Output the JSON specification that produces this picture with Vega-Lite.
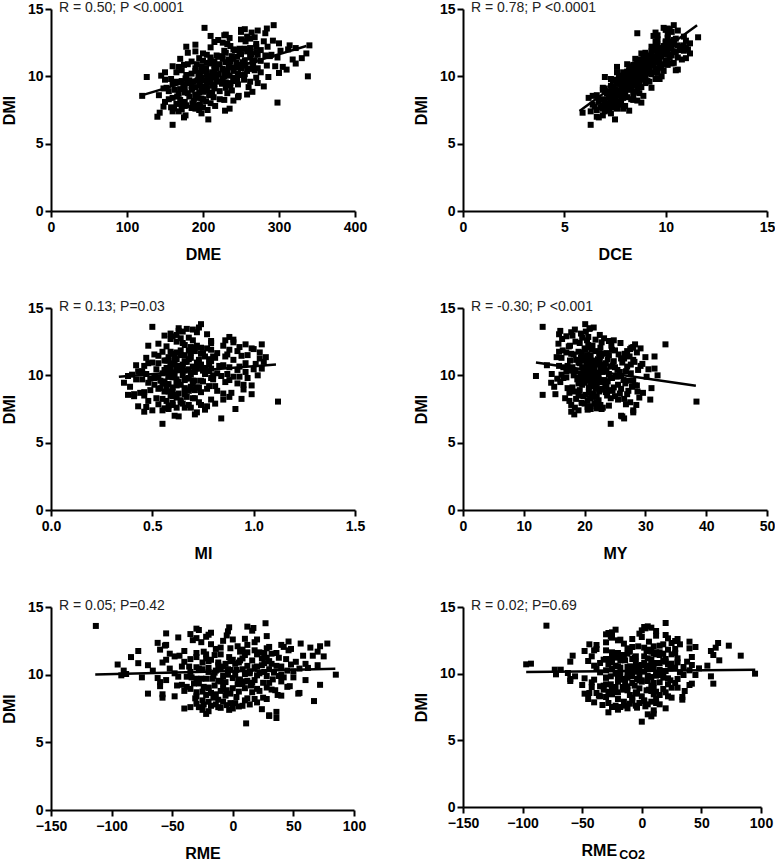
{
"$schema": "https://vega.github.io/schema/vega-lite/v6.json",
"padding": {"left": 1, "top": 1, "right": 0, "bottom": 0},
"background": "white",
"config": {
 "view": {"stroke": null},
 "font": "Liberation Sans",
 "axis": {"grid": false, "domainColor": "black", "domainWidth": 2, "tickColor": "black", "tickWidth": 2, "tickSize": 6, "labelFont": "Liberation Sans", "labelFontWeight": "bold", "labelFontSize": 14, "labelColor": "black", "labelFlush": false, "labelOverlap": false, "titleFont": "Liberation Sans", "titleFontSize": 16, "titleFontWeight": "bold", "titleColor": "black"},
 "axisX": {"labelPadding": 3, "titlePadding": 12},
 "axisY": {"labelPadding": 2, "titlePadding": 10}
},
"datasets": {
 "animals": [
{"dmi":6.4,"dme":160,"dce":6.3,"mi":0.55,"my":24.3,"rme":11,"rco2":0},
{"dmi":6.8,"dme":207,"dce":7.5,"mi":0.84,"my":26.5,"rme":36,"rco2":8},
{"dmi":6.95,"dme":175,"dce":6.7,"mi":0.63,"my":26.2,"rme":30,"rco2":5},
{"dmi":7.0,"dme":140,"dce":6.6,"mi":0.61,"my":26.0,"rme":30,"rco2":10},
{"dmi":7.1,"dme":177,"dce":6.9,"mi":0.71,"my":18.3,"rme":-22,"rco2":-28},
{"dmi":7.25,"dme":198,"dce":7.3,"mi":0.72,"my":28.0,"rme":36,"rco2":10},
{"dmi":7.3,"dme":143,"dce":5.9,"mi":0.46,"my":17.8,"rme":-20,"rco2":-20},
{"dmi":7.4,"dme":168,"dce":7.0,"mi":0.55,"my":28.0,"rme":-3,"rco2":20},
{"dmi":7.45,"dme":229,"dce":8.2,"mi":0.76,"my":20.5,"rme":24,"rco2":-4},
{"dmi":7.5,"dme":195,"dce":6.6,"mi":0.91,"my":21.0,"rme":0,"rco2":-25},
{"dmi":7.4,"dme":160,"dce":6.3,"mi":0.50,"my":19.0,"rme":-25,"rco2":-12},
{"dmi":7.55,"dme":172,"dce":7.2,"mi":0.56,"my":22.0,"rme":-10,"rco2":3},
{"dmi":7.6,"dme":162,"dce":7.6,"mi":0.62,"my":18.4,"rme":-28,"rco2":-22},
{"dmi":7.65,"dme":185,"dce":7.0,"mi":0.47,"my":20.5,"rme":5,"rco2":-33},
{"dmi":7.7,"dme":200,"dce":7.4,"mi":0.77,"my":22.5,"rme":-18,"rco2":5},
{"dmi":7.75,"dme":148,"dce":6.5,"mi":0.58,"my":24.0,"rme":-5,"rco2":-10},
{"dmi":7.8,"dme":216,"dce":8.0,"mi":0.68,"my":17.8,"rme":14,"rco2":12},
{"dmi":7.85,"dme":178,"dce":6.9,"mi":0.53,"my":26.8,"rme":-30,"rco2":-40},
{"dmi":7.9,"dme":196,"dce":7.7,"mi":0.81,"my":21.6,"rme":-2,"rco2":-15},
{"dmi":7.95,"dme":165,"dce":7.1,"mi":0.60,"my":19.5,"rme":20,"rco2":2},
{"dmi":7.6,"dme":235,"dce":7.9,"mi":0.66,"my":23.0,"rme":-35,"rco2":-5},
{"dmi":7.7,"dme":158,"dce":6.8,"mi":0.43,"my":21.0,"rme":8,"rco2":15},
{"dmi":7.8,"dme":189,"dce":7.5,"mi":0.74,"my":28.5,"rme":-14,"rco2":-28},
{"dmi":7.9,"dme":172,"dce":6.4,"mi":0.65,"my":20.0,"rme":2,"rco2":8},
{"dmi":7.5,"dme":206,"dce":7.2,"mi":0.58,"my":22.8,"rme":-40,"rco2":-18},
{"dmi":8.05,"dme":298,"dce":8.8,"mi":1.12,"my":38.4,"rme":67,"rco2":34},
{"dmi":8.1,"dme":150,"dce":6.7,"mi":0.48,"my":17.5,"rme":-25,"rco2":-45},
{"dmi":8.15,"dme":204,"dce":7.6,"mi":0.64,"my":22.3,"rme":-12,"rco2":12},
{"dmi":8.2,"dme":188,"dce":7.3,"mi":0.79,"my":25.5,"rme":18,"rco2":-8},
{"dmi":8.25,"dme":170,"dce":7.0,"mi":0.55,"my":18.6,"rme":-31,"rco2":-30},
{"dmi":8.3,"dme":222,"dce":8.3,"mi":0.70,"my":24.3,"rme":25,"rco2":22},
{"dmi":8.35,"dme":198,"dce":7.8,"mi":0.62,"my":29.0,"rme":3,"rco2":-36},
{"dmi":8.4,"dme":160,"dce":6.2,"mi":0.88,"my":21.2,"rme":-48,"rco2":-10},
{"dmi":8.45,"dme":246,"dce":8.1,"mi":0.60,"my":19.8,"rme":-6,"rco2":10},
{"dmi":8.5,"dme":182,"dce":7.4,"mi":0.46,"my":23.7,"rme":37,"rco2":-48},
{"dmi":8.0,"dme":210,"dce":7.8,"mi":0.73,"my":27.5,"rme":-20,"rco2":2},
{"dmi":8.1,"dme":176,"dce":7.0,"mi":0.57,"my":20.5,"rme":10,"rco2":-20},
{"dmi":8.2,"dme":240,"dce":8.6,"mi":0.85,"my":30.8,"rme":28,"rco2":25},
{"dmi":8.3,"dme":155,"dce":6.8,"mi":0.52,"my":16.8,"rme":-58,"rco2":-35},
{"dmi":8.4,"dme":193,"dce":7.9,"mi":0.67,"my":22.0,"rme":-30,"rco2":15},
{"dmi":8.45,"dme":214,"dce":7.2,"mi":0.41,"my":25.0,"rme":40,"rco2":-25},
{"dmi":8.25,"dme":228,"dce":8.4,"mi":0.94,"my":26.5,"rme":12,"rco2":34},
{"dmi":8.5,"dme":166,"dce":7.5,"mi":0.59,"my":19.0,"rme":-22,"rco2":-4},
{"dmi":8.55,"dme":120,"dce":6.4,"mi":0.38,"my":13.1,"rme":-58,"rco2":-44},
{"dmi":8.6,"dme":208,"dce":8.0,"mi":0.99,"my":27.0,"rme":54,"rco2":20},
{"dmi":8.65,"dme":190,"dce":7.6,"mi":0.63,"my":21.3,"rme":-18,"rco2":-28},
{"dmi":8.7,"dme":168,"dce":7.1,"mi":0.44,"my":17.5,"rme":-30,"rco2":8},
{"dmi":8.75,"dme":232,"dce":8.7,"mi":0.74,"my":23.5,"rme":5,"rco2":-12},
{"dmi":8.8,"dme":176,"dce":7.3,"mi":0.56,"my":28.7,"rme":22,"rco2":-32},
{"dmi":8.85,"dme":265,"dce":8.5,"mi":0.82,"my":24.6,"rme":35,"rco2":18},
{"dmi":8.9,"dme":155,"dce":7.0,"mi":0.49,"my":19.2,"rme":-8,"rco2":-2},
{"dmi":8.95,"dme":205,"dce":7.7,"mi":0.66,"my":22.6,"rme":-35,"rco2":25},
{"dmi":9.0,"dme":185,"dce":8.2,"mi":0.77,"my":26.0,"rme":10,"rco2":-22},
{"dmi":8.55,"dme":247,"dce":8.9,"mi":0.61,"my":20.2,"rme":-14,"rco2":-38},
{"dmi":8.6,"dme":142,"dce":6.6,"mi":0.41,"my":15.2,"rme":-70,"rco2":-5},
{"dmi":8.7,"dme":212,"dce":7.4,"mi":0.89,"my":29.6,"rme":16,"rco2":36},
{"dmi":8.8,"dme":195,"dce":8.0,"mi":0.58,"my":18.3,"rme":-40,"rco2":-15},
{"dmi":8.9,"dme":222,"dce":7.5,"mi":0.71,"my":24.0,"rme":32,"rco2":10},
{"dmi":9.0,"dme":163,"dce":6.9,"mi":0.53,"my":21.8,"rme":0,"rco2":-42},
{"dmi":8.65,"dme":258,"dce":8.4,"mi":0.85,"my":25.8,"rme":55,"rco2":12},
{"dmi":8.75,"dme":180,"dce":7.8,"mi":0.46,"my":20.7,"rme":-25,"rco2":4},
{"dmi":8.85,"dme":200,"dce":7.2,"mi":0.68,"my":27.2,"rme":-5,"rco2":-25},
{"dmi":8.95,"dme":238,"dce":8.6,"mi":0.95,"my":23.0,"rme":20,"rco2":30},
{"dmi":9.05,"dme":170,"dce":7.5,"mi":0.54,"my":17.2,"rme":-20,"rco2":-12},
{"dmi":9.1,"dme":215,"dce":8.1,"mi":0.72,"my":24.8,"rme":45,"rco2":-32},
{"dmi":9.15,"dme":152,"dce":6.9,"mi":0.39,"my":15.0,"rme":-60,"rco2":-50},
{"dmi":9.2,"dme":260,"dce":8.8,"mi":0.81,"my":21.7,"rme":15,"rco2":22},
{"dmi":9.25,"dme":198,"dce":7.8,"mi":0.62,"my":28.3,"rme":-42,"rco2":42},
{"dmi":9.3,"dme":185,"dce":7.3,"mi":0.95,"my":19.6,"rme":4,"rco2":-8},
{"dmi":9.35,"dme":236,"dce":8.5,"mi":0.57,"my":23.4,"rme":-28,"rco2":15},
{"dmi":9.4,"dme":174,"dce":8.0,"mi":0.70,"my":26.7,"rme":30,"rco2":-20},
{"dmi":9.45,"dme":225,"dce":7.6,"mi":0.48,"my":20.0,"rme":-6,"rco2":5},
{"dmi":9.5,"dme":272,"dce":9.0,"mi":0.86,"my":22.4,"rme":40,"rco2":-2},
{"dmi":9.05,"dme":205,"dce":8.3,"mi":0.66,"my":31.0,"rme":28,"rco2":-35},
{"dmi":9.1,"dme":148,"dce":7.0,"mi":0.60,"my":18.0,"rme":-38,"rco2":8},
{"dmi":9.2,"dme":190,"dce":7.4,"mi":0.78,"my":21.0,"rme":-15,"rco2":-26},
{"dmi":9.3,"dme":212,"dce":8.6,"mi":0.51,"my":25.5,"rme":8,"rco2":28},
{"dmi":9.4,"dme":246,"dce":8.2,"mi":0.92,"my":19.0,"rme":25,"rco2":-14},
{"dmi":9.45,"dme":160,"dce":7.7,"mi":0.36,"my":14.5,"rme":-60,"rco2":-60},
{"dmi":9.15,"dme":230,"dce":9.3,"mi":0.69,"my":27.8,"rme":47,"rco2":40},
{"dmi":9.35,"dme":196,"dce":7.9,"mi":0.58,"my":22.0,"rme":-32,"rco2":-42},
{"dmi":9.25,"dme":280,"dce":8.7,"mi":0.99,"my":28.6,"rme":72,"rco2":60},
{"dmi":9.5,"dme":180,"dce":8.1,"mi":0.63,"my":16.0,"rme":-10,"rco2":0},
{"dmi":9.55,"dme":206,"dce":8.4,"mi":0.75,"my":23.8,"rme":12,"rco2":-18},
{"dmi":9.6,"dme":165,"dce":7.6,"mi":0.54,"my":20.4,"rme":-55,"rco2":-60},
{"dmi":9.65,"dme":240,"dce":9.1,"mi":0.88,"my":26.4,"rme":33,"rco2":22},
{"dmi":9.7,"dme":193,"dce":7.4,"mi":0.45,"my":18.8,"rme":-22,"rco2":-30},
{"dmi":9.75,"dme":254,"dce":8.8,"mi":0.67,"my":21.5,"rme":0,"rco2":8},
{"dmi":9.8,"dme":218,"dce":9.5,"mi":0.79,"my":24.2,"rme":50,"rco2":-8},
{"dmi":9.85,"dme":177,"dce":7.8,"mi":0.60,"my":17.0,"rme":-45,"rco2":12},
{"dmi":9.9,"dme":270,"dce":8.5,"mi":0.93,"my":30.2,"rme":38,"rco2":45},
{"dmi":9.95,"dme":126,"dce":7.0,"mi":0.38,"my":12.0,"rme":-92,"rco2":-72},
{"dmi":10.0,"dme":338,"dce":9.8,"mi":1.02,"my":32.0,"rme":85,"rco2":95},
{"dmi":9.55,"dme":230,"dce":8.0,"mi":0.56,"my":22.8,"rme":-12,"rco2":-40},
{"dmi":9.6,"dme":188,"dce":8.7,"mi":0.71,"my":27.3,"rme":18,"rco2":30},
{"dmi":9.7,"dme":210,"dce":7.9,"mi":0.62,"my":19.7,"rme":-30,"rco2":-12},
{"dmi":9.75,"dme":150,"dce":7.5,"mi":0.49,"my":15.5,"rme":-62,"rco2":-20},
{"dmi":9.8,"dme":245,"dce":9.7,"mi":0.97,"my":24.5,"rme":42,"rco2":58},
{"dmi":9.9,"dme":198,"dce":8.2,"mi":0.58,"my":21.2,"rme":-8,"rco2":-2},
{"dmi":9.95,"dme":286,"dce":9.0,"mi":0.84,"my":26.0,"rme":20,"rco2":18},
{"dmi":9.65,"dme":172,"dce":8.3,"mi":0.66,"my":23.2,"rme":5,"rco2":-48},
{"dmi":9.85,"dme":226,"dce":7.7,"mi":0.53,"my":19.0,"rme":-38,"rco2":5},
{"dmi":9.6,"dme":262,"dce":9.2,"mi":0.74,"my":28.0,"rme":60,"rco2":-15},
{"dmi":9.7,"dme":182,"dce":8.0,"mi":0.42,"my":20.6,"rme":-17,"rco2":-30},
{"dmi":9.9,"dme":212,"dce":8.9,"mi":0.90,"my":25.3,"rme":28,"rco2":35},
{"dmi":10.0,"dme":194,"dce":8.1,"mi":0.61,"my":18.2,"rme":-4,"rco2":-22},
{"dmi":9.8,"dme":158,"dce":7.3,"mi":0.51,"my":16.5,"rme":-75,"rco2":-56},
{"dmi":10.05,"dme":235,"dce":8.6,"mi":0.69,"my":22.3,"rme":10,"rco2":12},
{"dmi":10.1,"dme":178,"dce":8.0,"mi":0.47,"my":14.6,"rme":-48,"rco2":-35},
{"dmi":10.15,"dme":255,"dce":9.3,"mi":0.82,"my":27.6,"rme":34,"rco2":-5},
{"dmi":10.2,"dme":205,"dce":8.4,"mi":0.60,"my":21.0,"rme":-20,"rco2":20},
{"dmi":10.25,"dme":300,"dce":9.6,"mi":0.96,"my":25.8,"rme":50,"rco2":40},
{"dmi":10.3,"dme":165,"dce":7.9,"mi":0.43,"my":18.5,"rme":-66,"rco2":-68},
{"dmi":10.35,"dme":228,"dce":8.8,"mi":0.75,"my":23.6,"rme":3,"rco2":-25},
{"dmi":10.4,"dme":190,"dce":8.2,"mi":0.56,"my":19.8,"rme":-25,"rco2":7},
{"dmi":10.45,"dme":268,"dce":10.5,"mi":1.00,"my":30.5,"rme":55,"rco2":28},
{"dmi":10.5,"dme":215,"dce":8.5,"mi":0.64,"my":20.8,"rme":-10,"rco2":-12},
{"dmi":10.05,"dme":145,"dce":7.7,"mi":0.40,"my":16.2,"rme":-88,"rco2":-62},
{"dmi":10.1,"dme":248,"dce":9.0,"mi":0.87,"my":24.0,"rme":22,"rco2":32},
{"dmi":10.2,"dme":185,"dce":8.7,"mi":0.58,"my":20.2,"rme":-35,"rco2":-8},
{"dmi":10.3,"dme":276,"dce":9.4,"mi":0.78,"my":26.8,"rme":45,"rco2":15},
{"dmi":10.35,"dme":200,"dce":8.1,"mi":0.66,"my":17.6,"rme":-2,"rco2":-38},
{"dmi":10.4,"dme":240,"dce":9.9,"mi":0.92,"my":28.8,"rme":30,"rco2":48},
{"dmi":10.45,"dme":172,"dce":8.4,"mi":0.52,"my":21.6,"rme":-52,"rco2":-18},
{"dmi":10.5,"dme":310,"dce":10.6,"mi":1.04,"my":31.5,"rme":62,"rco2":35},
{"dmi":10.15,"dme":220,"dce":8.3,"mi":0.55,"my":19.4,"rme":-15,"rco2":2},
{"dmi":10.25,"dme":196,"dce":9.1,"mi":0.71,"my":23.0,"rme":14,"rco2":-30},
{"dmi":10.4,"dme":258,"dce":8.9,"mi":0.62,"my":25.4,"rme":8,"rco2":24},
{"dmi":10.0,"dme":210,"dce":8.0,"mi":0.80,"my":22.0,"rme":40,"rco2":-12},
{"dmi":10.3,"dme":150,"dce":7.6,"mi":0.45,"my":17.0,"rme":-90,"rco2":-73},
{"dmi":10.45,"dme":232,"dce":9.2,"mi":0.68,"my":20.0,"rme":-28,"rco2":10},
{"dmi":10.55,"dme":262,"dce":9.5,"mi":0.76,"my":23.2,"rme":18,"rco2":-20},
{"dmi":10.6,"dme":190,"dce":8.3,"mi":0.59,"my":18.0,"rme":-42,"rco2":6},
{"dmi":10.65,"dme":240,"dce":9.8,"mi":0.93,"my":27.0,"rme":36,"rco2":42},
{"dmi":10.7,"dme":168,"dce":7.6,"mi":0.46,"my":15.8,"rme":-70,"rco2":-97},
{"dmi":10.75,"dme":295,"dce":9.0,"mi":0.85,"my":24.6,"rme":48,"rco2":25},
{"dmi":10.8,"dme":215,"dce":8.7,"mi":0.61,"my":21.2,"rme":-6,"rco2":-35},
{"dmi":10.85,"dme":250,"dce":10.1,"mi":1.01,"my":29.5,"rme":26,"rco2":30},
{"dmi":10.9,"dme":180,"dce":8.1,"mi":0.53,"my":19.2,"rme":-58,"rco2":-5},
{"dmi":10.95,"dme":322,"dce":10.3,"mi":0.72,"my":26.2,"rme":52,"rco2":18},
{"dmi":11.0,"dme":205,"dce":9.3,"mi":0.66,"my":22.5,"rme":-20,"rco2":-18},
{"dmi":10.55,"dme":226,"dce":8.5,"mi":0.57,"my":20.6,"rme":-30,"rco2":-10},
{"dmi":10.6,"dme":272,"dce":9.6,"mi":0.88,"my":25.0,"rme":40,"rco2":55},
{"dmi":10.7,"dme":198,"dce":9.0,"mi":0.63,"my":17.2,"rme":-12,"rco2":-28},
{"dmi":10.75,"dme":160,"dce":8.2,"mi":0.42,"my":13.8,"rme":-95,"rco2":-93},
{"dmi":10.8,"dme":284,"dce":9.4,"mi":0.78,"my":27.6,"rme":60,"rco2":12},
{"dmi":10.9,"dme":235,"dce":9.9,"mi":0.96,"my":23.5,"rme":5,"rco2":38},
{"dmi":10.95,"dme":210,"dce":8.6,"mi":0.50,"my":19.0,"rme":-40,"rco2":-45},
{"dmi":10.65,"dme":245,"dce":8.9,"mi":0.70,"my":24.2,"rme":12,"rco2":0},
{"dmi":10.85,"dme":175,"dce":8.4,"mi":0.59,"my":21.8,"rme":-78,"rco2":-25},
{"dmi":11.0,"dme":265,"dce":10.4,"mi":1.05,"my":28.2,"rme":30,"rco2":65},
{"dmi":10.6,"dme":218,"dce":9.2,"mi":0.65,"my":16.5,"rme":-8,"rco2":-40},
{"dmi":10.7,"dme":305,"dce":9.7,"mi":0.83,"my":29.2,"rme":70,"rco2":22},
{"dmi":10.9,"dme":192,"dce":8.8,"mi":0.48,"my":20.3,"rme":-25,"rco2":-60},
{"dmi":10.8,"dme":256,"dce":9.1,"mi":0.74,"my":22.0,"rme":2,"rco2":15},
{"dmi":11.05,"dme":230,"dce":9.5,"mi":0.79,"my":24.8,"rme":16,"rco2":8},
{"dmi":11.1,"dme":185,"dce":8.6,"mi":0.56,"my":17.6,"rme":-55,"rco2":-30},
{"dmi":11.15,"dme":276,"dce":10.0,"mi":0.90,"my":28.0,"rme":44,"rco2":30},
{"dmi":11.2,"dme":210,"dce":9.1,"mi":0.62,"my":20.8,"rme":-22,"rco2":-20},
{"dmi":11.25,"dme":318,"dce":10.8,"mi":1.03,"my":26.5,"rme":38,"rco2":42},
{"dmi":11.3,"dme":240,"dce":9.3,"mi":0.69,"my":19.4,"rme":-3,"rco2":-5},
{"dmi":11.35,"dme":195,"dce":8.9,"mi":0.58,"my":15.4,"rme":-48,"rco2":-58},
{"dmi":11.4,"dme":262,"dce":10.2,"mi":0.86,"my":31.5,"rme":66,"rco2":15},
{"dmi":11.45,"dme":220,"dce":9.6,"mi":0.53,"my":22.7,"rme":-15,"rco2":25},
{"dmi":11.5,"dme":288,"dce":9.8,"mi":0.97,"my":24.0,"rme":20,"rco2":-12},
{"dmi":11.05,"dme":252,"dce":9.0,"mi":0.66,"my":21.5,"rme":6,"rco2":-32},
{"dmi":11.15,"dme":200,"dce":9.4,"mi":0.73,"my":18.6,"rme":-35,"rco2":5},
{"dmi":11.25,"dme":234,"dce":8.7,"mi":0.61,"my":26.0,"rme":28,"rco2":-15},
{"dmi":11.3,"dme":170,"dce":8.5,"mi":0.47,"my":16.2,"rme":-84,"rco2":-42},
{"dmi":11.4,"dme":298,"dce":10.6,"mi":0.80,"my":27.4,"rme":58,"rco2":60},
{"dmi":11.45,"dme":245,"dce":9.7,"mi":0.94,"my":20.5,"rme":10,"rco2":12},
{"dmi":11.2,"dme":268,"dce":10.1,"mi":0.68,"my":23.8,"rme":24,"rco2":-25},
{"dmi":11.1,"dme":215,"dce":8.9,"mi":0.57,"my":19.9,"rme":-18,"rco2":-8},
{"dmi":11.35,"dme":330,"dce":11.0,"mi":1.06,"my":30.0,"rme":75,"rco2":83},
{"dmi":11.5,"dme":225,"dce":9.2,"mi":0.64,"my":21.0,"rme":-10,"rco2":18},
{"dmi":11.55,"dme":282,"dce":10.3,"mi":0.87,"my":25.6,"rme":32,"rco2":28},
{"dmi":11.6,"dme":205,"dce":9.6,"mi":0.60,"my":17.8,"rme":-30,"rco2":-25},
{"dmi":11.65,"dme":250,"dce":9.0,"mi":0.75,"my":22.4,"rme":12,"rco2":-10},
{"dmi":11.7,"dme":336,"dce":11.2,"mi":1.03,"my":28.6,"rme":70,"rco2":58},
{"dmi":11.75,"dme":230,"dce":9.8,"mi":0.55,"my":19.0,"rme":-40,"rco2":-30},
{"dmi":11.8,"dme":270,"dce":10.5,"mi":0.92,"my":27.0,"rme":46,"rco2":22},
{"dmi":11.85,"dme":190,"dce":9.3,"mi":0.64,"my":16.4,"rme":-60,"rco2":-38},
{"dmi":11.9,"dme":302,"dce":10.9,"mi":0.79,"my":24.5,"rme":48,"rco2":40},
{"dmi":11.95,"dme":242,"dce":9.5,"mi":0.70,"my":21.2,"rme":-2,"rco2":2},
{"dmi":12.0,"dme":312,"dce":11.1,"mi":0.99,"my":29.2,"rme":64,"rco2":45},
{"dmi":11.55,"dme":218,"dce":9.2,"mi":0.51,"my":18.2,"rme":-52,"rco2":-20},
{"dmi":11.65,"dme":264,"dce":10.0,"mi":0.82,"my":23.6,"rme":22,"rco2":8},
{"dmi":11.75,"dme":180,"dce":9.0,"mi":0.59,"my":15.8,"rme":-78,"rco2":-40},
{"dmi":11.85,"dme":258,"dce":10.4,"mi":0.68,"my":25.0,"rme":8,"rco2":28},
{"dmi":11.9,"dme":228,"dce":9.7,"mi":0.88,"my":20.2,"rme":-14,"rco2":-12},
{"dmi":11.6,"dme":290,"dce":10.2,"mi":0.74,"my":26.6,"rme":36,"rco2":15},
{"dmi":11.7,"dme":200,"dce":8.8,"mi":0.62,"my":17.0,"rme":-24,"rco2":-48},
{"dmi":11.95,"dme":276,"dce":10.7,"mi":1.00,"my":27.5,"rme":28,"rco2":62},
{"dmi":12.05,"dme":255,"dce":10.3,"mi":0.71,"my":22.6,"rme":42,"rco2":10},
{"dmi":12.1,"dme":322,"dce":11.0,"mi":0.93,"my":28.0,"rme":72,"rco2":73},
{"dmi":12.15,"dme":210,"dce":9.4,"mi":0.57,"my":17.4,"rme":-56,"rco2":-38},
{"dmi":12.2,"dme":285,"dce":10.8,"mi":0.85,"my":24.4,"rme":40,"rco2":32},
{"dmi":12.25,"dme":236,"dce":9.9,"mi":0.66,"my":20.6,"rme":-18,"rco2":-15},
{"dmi":12.3,"dme":340,"dce":10.9,"mi":1.04,"my":33.3,"rme":78,"rco2":64},
{"dmi":12.35,"dme":190,"dce":9.6,"mi":0.53,"my":15.7,"rme":-62,"rco2":-30},
{"dmi":12.4,"dme":270,"dce":10.2,"mi":0.79,"my":25.9,"rme":18,"rco2":40},
{"dmi":12.45,"dme":300,"dce":11.2,"mi":0.90,"my":22.8,"rme":46,"rco2":28},
{"dmi":12.5,"dme":226,"dce":10.0,"mi":0.62,"my":18.5,"rme":-8,"rco2":-20},
{"dmi":12.05,"dme":248,"dce":9.7,"mi":0.74,"my":27.7,"rme":30,"rco2":-3},
{"dmi":12.2,"dme":178,"dce":9.3,"mi":0.48,"my":17.6,"rme":-55,"rco2":-44},
{"dmi":12.3,"dme":314,"dce":10.6,"mi":0.96,"my":28.3,"rme":56,"rco2":25},
{"dmi":12.1,"dme":262,"dce":9.8,"mi":0.69,"my":21.0,"rme":4,"rco2":15},
{"dmi":12.6,"dme":280,"dce":10.0,"mi":0.86,"my":24.8,"rme":20,"rco2":30},
{"dmi":12.7,"dme":220,"dce":10.4,"mi":0.59,"my":16.3,"rme":-30,"rco2":-25},
{"dmi":12.75,"dme":250,"dce":9.6,"mi":0.64,"my":23.2,"rme":-45,"rco2":0},
{"dmi":12.8,"dme":262,"dce":10.5,"mi":0.68,"my":19.6,"rme":-22,"rco2":-26},
{"dmi":12.85,"dme":235,"dce":10.1,"mi":0.88,"my":20.6,"rme":28,"rco2":12},
{"dmi":12.9,"dme":268,"dce":11.6,"mi":0.60,"my":17.0,"rme":-5,"rco2":20},
{"dmi":12.95,"dme":258,"dce":10.9,"mi":0.56,"my":18.0,"rme":-20,"rco2":-30},
{"dmi":12.55,"dme":215,"dce":9.5,"mi":0.79,"my":24.0,"rme":-33,"rco2":-18},
{"dmi":12.65,"dme":292,"dce":11.0,"mi":0.90,"my":21.8,"rme":10,"rco2":22},
{"dmi":13.05,"dme":228,"dce":9.6,"mi":0.77,"my":15.8,"rme":-55,"rco2":-28},
{"dmi":13.1,"dme":230,"dce":10.1,"mi":0.59,"my":19.4,"rme":-18,"rco2":-25},
{"dmi":13.2,"dme":282,"dce":8.6,"mi":0.72,"my":17.8,"rme":-4,"rco2":12},
{"dmi":13.25,"dme":264,"dce":9.5,"mi":0.65,"my":20.2,"rme":16,"rco2":0},
{"dmi":13.3,"dme":250,"dce":10.3,"mi":0.63,"my":16.0,"rme":-28,"rco2":-22},
{"dmi":13.4,"dme":272,"dce":10.6,"mi":0.70,"my":18.4,"rme":-30,"rco2":3},
{"dmi":13.45,"dme":250,"dce":10.0,"mi":0.67,"my":20.8,"rme":17,"rco2":8},
{"dmi":13.0,"dme":210,"dce":9.4,"mi":0.62,"my":22.5,"rme":-35,"rco2":-2},
{"dmi":13.6,"dme":202,"dce":9.9,"mi":0.50,"my":13.1,"rme":-113,"rco2":-80},
{"dmi":13.8,"dme":293,"dce":10.4,"mi":0.74,"my":20.1,"rme":27,"rco2":20},
{"dmi":13.5,"dme":255,"dce":10.2,"mi":0.63,"my":20.9,"rme":-3,"rco2":2},
{"dmi":13.55,"dme":284,"dce":10.1,"mi":0.73,"my":21.5,"rme":12,"rco2":5},
{"dmi":9.3,"dme":205,"dce":8.2,"mi":0.64,"my":21.4,"rme":-8,"rco2":10},
{"dmi":9.6,"dme":222,"dce":8.5,"mi":0.70,"my":22.1,"rme":6,"rco2":-4},
{"dmi":9.9,"dme":240,"dce":8.7,"mi":0.58,"my":20.6,"rme":-16,"rco2":14},
{"dmi":10.1,"dme":216,"dce":8.9,"mi":0.76,"my":21.9,"rme":14,"rco2":-10},
{"dmi":10.4,"dme":230,"dce":8.6,"mi":0.63,"my":22.6,"rme":-4,"rco2":4},
{"dmi":10.6,"dme":250,"dce":9.0,"mi":0.72,"my":20.9,"rme":20,"rco2":-2},
{"dmi":10.9,"dme":222,"dce":9.3,"mi":0.60,"my":21.6,"rme":-12,"rco2":20},
{"dmi":11.2,"dme":255,"dce":9.5,"mi":0.78,"my":22.2,"rme":8,"rco2":-6},
{"dmi":11.5,"dme":238,"dce":9.4,"mi":0.66,"my":20.4,"rme":-22,"rco2":10},
{"dmi":11.8,"dme":262,"dce":9.9,"mi":0.71,"my":21.8,"rme":18,"rco2":6},
{"dmi":9.0,"dme":198,"dce":7.9,"mi":0.69,"my":22.9,"rme":-20,"rco2":-16},
{"dmi":9.4,"dme":215,"dce":8.4,"mi":0.55,"my":21.1,"rme":16,"rco2":0},
{"dmi":9.7,"dme":200,"dce":8.1,"mi":0.80,"my":22.3,"rme":-26,"rco2":18},
{"dmi":10.0,"dme":228,"dce":8.4,"mi":0.65,"my":20.8,"rme":2,"rco2":-18},
{"dmi":10.3,"dme":212,"dce":8.9,"mi":0.59,"my":21.3,"rme":-14,"rco2":-2},
{"dmi":10.7,"dme":234,"dce":8.8,"mi":0.74,"my":22.8,"rme":24,"rco2":8},
{"dmi":11.0,"dme":244,"dce":9.2,"mi":0.67,"my":21.0,"rme":-2,"rco2":-14},
{"dmi":11.3,"dme":226,"dce":9.0,"mi":0.81,"my":19.8,"rme":-30,"rco2":2},
{"dmi":11.6,"dme":272,"dce":9.7,"mi":0.61,"my":22.9,"rme":26,"rco2":12},
{"dmi":12.0,"dme":240,"dce":10.1,"mi":0.77,"my":20.0,"rme":-10,"rco2":-8},
{"dmi":8.8,"dme":210,"dce":7.8,"mi":0.60,"my":22.4,"rme":-10,"rco2":6},
{"dmi":9.1,"dme":186,"dce":8.0,"mi":0.73,"my":20.7,"rme":-24,"rco2":-6},
{"dmi":9.5,"dme":236,"dce":8.3,"mi":0.62,"my":23.3,"rme":10,"rco2":24},
{"dmi":9.8,"dme":206,"dce":8.6,"mi":0.68,"my":19.9,"rme":-34,"rco2":-26},
{"dmi":10.2,"dme":246,"dce":8.8,"mi":0.57,"my":21.7,"rme":26,"rco2":16},
{"dmi":10.5,"dme":198,"dce":9.1,"mi":0.79,"my":20.3,"rme":-20,"rco2":-6},
{"dmi":10.8,"dme":266,"dce":9.2,"mi":0.65,"my":23.0,"rme":32,"rco2":2},
{"dmi":11.1,"dme":236,"dce":9.7,"mi":0.58,"my":21.4,"rme":0,"rco2":20},
{"dmi":11.4,"dme":210,"dce":9.3,"mi":0.76,"my":22.5,"rme":-44,"rco2":-16},
{"dmi":11.7,"dme":248,"dce":9.6,"mi":0.69,"my":19.5,"rme":6,"rco2":4},
{"dmi":12.2,"dme":270,"dce":10.0,"mi":0.72,"my":21.3,"rme":12,"rco2":18},
{"dmi":12.4,"dme":232,"dce":10.4,"mi":0.65,"my":19.2,"rme":-26,"rco2":6},
{"dmi":12.6,"dme":256,"dce":10.2,"mi":0.70,"my":20.4,"rme":0,"rco2":-8},
{"dmi":8.6,"dme":190,"dce":7.7,"mi":0.66,"my":21.5,"rme":-2,"rco2":-20},
{"dmi":8.3,"dme":200,"dce":7.5,"mi":0.71,"my":20.9,"rme":-16,"rco2":0},
{"dmi":8.0,"dme":186,"dce":7.3,"mi":0.64,"my":21.9,"rme":-8,"rco2":-8},
{"dmi":7.8,"dme":176,"dce":7.2,"mi":0.60,"my":22.6,"rme":-24,"rco2":-2},
{"dmi":7.6,"dme":190,"dce":6.9,"mi":0.69,"my":20.8,"rme":-12,"rco2":-14},
{"dmi":9.2,"dme":176,"dce":8.1,"mi":0.57,"my":23.6,"rme":-46,"rco2":-30},
{"dmi":10.6,"dme":204,"dce":8.6,"mi":0.62,"my":19.6,"rme":-36,"rco2":-22}
 ],
 "lines": [
  {"panel":"DME","x":117,"y":8.55},{"panel":"DME","x":336,"y":12.25},
  {"panel":"DCE","x":5.75,"y":7.43},{"panel":"DCE","x":11.55,"y":13.8},
  {"panel":"MI","x":0.335,"y":9.9},{"panel":"MI","x":1.11,"y":10.8},
  {"panel":"MY","x":12,"y":10.95},{"panel":"MY","x":38.3,"y":9.22},
  {"panel":"RME","x":-113.5,"y":10.02},{"panel":"RME","x":84.6,"y":10.44},
  {"panel":"RCO2","x":-97,"y":10.12},{"panel":"RCO2","x":95.2,"y":10.3}
 ],
 "notes": [
  {"panel":"DME","x":0,"y":15,"label":"R = 0.50; P <0.0001"},
  {"panel":"DCE","x":0,"y":15,"label":"R = 0.78; P <0.0001"},
  {"panel":"MI","x":0,"y":15,"label":"R = 0.13; P=0.03"},
  {"panel":"MY","x":0,"y":15,"label":"R = -0.30; P <0.001"},
  {"panel":"RME","x":-150,"y":15,"label":"R = 0.05; P=0.42"},
  {"panel":"RCO2","x":-150,"y":15,"label":"R = 0.02; P=0.69"},
  {"panel":"SUB","x":-19,"y":0,"label":"CO2"}
 ]
},
"columns": 2,
"spacing": {"row": 38, "column": 46},
"concat": [
 {"width": 304, "height": 202, "layer": [
  {"data": {"name": "animals"}, "mark": {"type": "square", "size": 36, "filled": true, "color": "black", "opacity": 1},
   "encoding": {"x": {"field": "dme", "type": "quantitative", "scale": {"domain": [0, 400], "nice": false}, "axis": {"values": [0, 100, 200, 300, 400], "title": "DME"}},
                "y": {"field": "dmi", "type": "quantitative", "scale": {"domain": [0, 15], "nice": false}, "axis": {"values": [0, 5, 10, 15], "title": "DMI"}}}},
  {"data": {"name": "lines"}, "transform": [{"filter": "datum.panel === 'DME'"}], "mark": {"type": "line", "color": "black", "strokeWidth": 2.5},
   "encoding": {"x": {"field": "x", "type": "quantitative"}, "y": {"field": "y", "type": "quantitative"}}},
  {"data": {"name": "notes"}, "transform": [{"filter": "datum.panel === 'DME'"}], "mark": {"type": "text", "align": "left", "baseline": "middle", "dx": 8, "dy": -1, "fontSize": 14, "color": "#222"},
   "encoding": {"x": {"field": "x", "type": "quantitative"}, "y": {"field": "y", "type": "quantitative"}, "text": {"field": "label"}}}
 ]},
 {"width": 304, "height": 202, "layer": [
  {"data": {"name": "animals"}, "mark": {"type": "square", "size": 36, "filled": true, "color": "black", "opacity": 1},
   "encoding": {"x": {"field": "dce", "type": "quantitative", "scale": {"domain": [0, 15], "nice": false}, "axis": {"values": [0, 5, 10, 15], "title": "DCE"}},
                "y": {"field": "dmi", "type": "quantitative", "scale": {"domain": [0, 15], "nice": false}, "axis": {"values": [0, 5, 10, 15], "title": "DMI"}}}},
  {"data": {"name": "lines"}, "transform": [{"filter": "datum.panel === 'DCE'"}], "mark": {"type": "line", "color": "black", "strokeWidth": 2.5},
   "encoding": {"x": {"field": "x", "type": "quantitative"}, "y": {"field": "y", "type": "quantitative"}}},
  {"data": {"name": "notes"}, "transform": [{"filter": "datum.panel === 'DCE'"}], "mark": {"type": "text", "align": "left", "baseline": "middle", "dx": 8, "dy": -1, "fontSize": 14, "color": "#222"},
   "encoding": {"x": {"field": "x", "type": "quantitative"}, "y": {"field": "y", "type": "quantitative"}, "text": {"field": "label"}}}
 ]},
 {"width": 304, "height": 202, "layer": [
  {"data": {"name": "animals"}, "mark": {"type": "square", "size": 36, "filled": true, "color": "black", "opacity": 1},
   "encoding": {"x": {"field": "mi", "type": "quantitative", "scale": {"domain": [0, 1.5], "nice": false}, "axis": {"values": [0, 0.5, 1, 1.5], "format": ".1f", "title": "MI"}},
                "y": {"field": "dmi", "type": "quantitative", "scale": {"domain": [0, 15], "nice": false}, "axis": {"values": [0, 5, 10, 15], "title": "DMI"}}}},
  {"data": {"name": "lines"}, "transform": [{"filter": "datum.panel === 'MI'"}], "mark": {"type": "line", "color": "black", "strokeWidth": 2.5},
   "encoding": {"x": {"field": "x", "type": "quantitative"}, "y": {"field": "y", "type": "quantitative"}}},
  {"data": {"name": "notes"}, "transform": [{"filter": "datum.panel === 'MI'"}], "mark": {"type": "text", "align": "left", "baseline": "middle", "dx": 8, "dy": -1, "fontSize": 14, "color": "#222"},
   "encoding": {"x": {"field": "x", "type": "quantitative"}, "y": {"field": "y", "type": "quantitative"}, "text": {"field": "label"}}}
 ]},
 {"width": 304, "height": 202, "layer": [
  {"data": {"name": "animals"}, "mark": {"type": "square", "size": 36, "filled": true, "color": "black", "opacity": 1},
   "encoding": {"x": {"field": "my", "type": "quantitative", "scale": {"domain": [0, 50], "nice": false}, "axis": {"values": [0, 10, 20, 30, 40, 50], "title": "MY"}},
                "y": {"field": "dmi", "type": "quantitative", "scale": {"domain": [0, 15], "nice": false}, "axis": {"values": [0, 5, 10, 15], "title": "DMI"}}}},
  {"data": {"name": "lines"}, "transform": [{"filter": "datum.panel === 'MY'"}], "mark": {"type": "line", "color": "black", "strokeWidth": 2.5},
   "encoding": {"x": {"field": "x", "type": "quantitative"}, "y": {"field": "y", "type": "quantitative"}}},
  {"data": {"name": "notes"}, "transform": [{"filter": "datum.panel === 'MY'"}], "mark": {"type": "text", "align": "left", "baseline": "middle", "dx": 8, "dy": -1, "fontSize": 14, "color": "#222"},
   "encoding": {"x": {"field": "x", "type": "quantitative"}, "y": {"field": "y", "type": "quantitative"}, "text": {"field": "label"}}}
 ]},
 {"width": 303, "height": 203, "layer": [
  {"data": {"name": "animals"}, "mark": {"type": "square", "size": 36, "filled": true, "color": "black", "opacity": 1},
   "encoding": {"x": {"field": "rme", "type": "quantitative", "scale": {"domain": [-150, 100], "nice": false}, "axis": {"values": [-150, -100, -50, 0, 50, 100], "title": "RME"}},
                "y": {"field": "dmi", "type": "quantitative", "scale": {"domain": [0, 15], "nice": false}, "axis": {"values": [0, 5, 10, 15], "title": "DMI"}}}},
  {"data": {"name": "lines"}, "transform": [{"filter": "datum.panel === 'RME'"}], "mark": {"type": "line", "color": "black", "strokeWidth": 2.5},
   "encoding": {"x": {"field": "x", "type": "quantitative"}, "y": {"field": "y", "type": "quantitative"}}},
  {"data": {"name": "notes"}, "transform": [{"filter": "datum.panel === 'RME'"}], "mark": {"type": "text", "align": "left", "baseline": "middle", "dx": 8, "dy": -1, "fontSize": 14, "color": "#222"},
   "encoding": {"x": {"field": "x", "type": "quantitative"}, "y": {"field": "y", "type": "quantitative"}, "text": {"field": "label"}}}
 ]},
 {"width": 298, "height": 200, "layer": [
  {"data": {"name": "animals"}, "mark": {"type": "square", "size": 36, "filled": true, "color": "black", "opacity": 1},
   "encoding": {"x": {"field": "rco2", "type": "quantitative", "scale": {"domain": [-150, 100], "nice": false}, "axis": {"values": [-150, -100, -50, 0, 50, 100], "title": "RME", "titleX": 118, "titleAlign": "left"}},
                "y": {"field": "dmi", "type": "quantitative", "scale": {"domain": [0, 15], "nice": false}, "axis": {"values": [0, 5, 10, 15], "title": "DMI"}}}},
  {"data": {"name": "lines"}, "transform": [{"filter": "datum.panel === 'RCO2'"}], "mark": {"type": "line", "color": "black", "strokeWidth": 2.5},
   "encoding": {"x": {"field": "x", "type": "quantitative"}, "y": {"field": "y", "type": "quantitative"}}},
  {"data": {"name": "notes"}, "transform": [{"filter": "datum.panel === 'RCO2'"}], "mark": {"type": "text", "align": "left", "baseline": "middle", "dx": 8, "dy": -1, "fontSize": 14, "color": "#222"},
   "encoding": {"x": {"field": "x", "type": "quantitative"}, "y": {"field": "y", "type": "quantitative"}, "text": {"field": "label"}}},
  {"data": {"name": "notes"}, "transform": [{"filter": "datum.panel === 'SUB'"}], "mark": {"type": "text", "align": "left", "baseline": "alphabetic", "dy": 52, "fontSize": 12.5, "fontWeight": "bold", "color": "black"},
   "encoding": {"x": {"field": "x", "type": "quantitative"}, "y": {"field": "y", "type": "quantitative"}, "text": {"field": "label"}}}
 ]}
]
}
